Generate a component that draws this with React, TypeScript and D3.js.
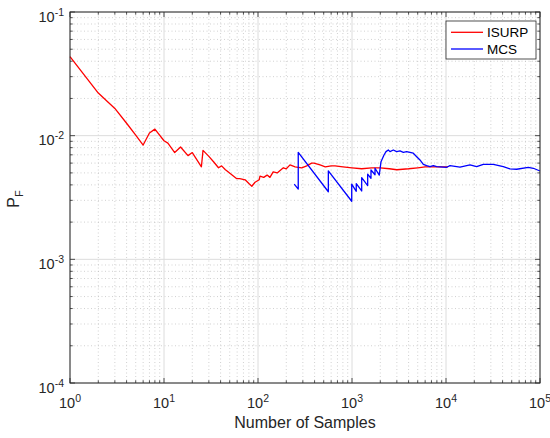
import React from 'react';
import * as d3 from 'd3';

// ISURP estimate of failure probability vs number of samples
const isurpN = [1, 2, 3, 4, 5, 6, 7, 8, 10, 11, 13, 15, 18, 20, 25, 26, 30, 34, 38, 41, 45, 48, 53, 59, 64, 73, 80, 86, 93, 103, 105, 115, 125, 134, 145, 160, 186, 200, 219, 248, 292, 330, 372, 394, 457, 520, 600, 660, 800, 1000, 1268, 1620, 2000, 2500, 3000, 4000, 5000, 6000, 8000, 10500];
const isurpP = [0.0435, 0.0221, 0.0166, 0.0126, 0.0101, 0.0084, 0.0105, 0.0113, 0.0091, 0.0087, 0.0073, 0.0081, 0.0069, 0.0073, 0.0056, 0.0076, 0.0068, 0.0061, 0.0055, 0.0057, 0.0053, 0.0051, 0.0048, 0.0045, 0.0045, 0.0044, 0.0041, 0.0039, 0.0042, 0.0044, 0.0047, 0.0046, 0.0048, 0.0046, 0.0051, 0.0050, 0.0055, 0.0054, 0.0058, 0.0056, 0.0055, 0.0057, 0.0060, 0.0060, 0.0058, 0.0056, 0.0057, 0.0057, 0.0056, 0.0055, 0.0054, 0.0055, 0.0055, 0.0054, 0.0053, 0.0054, 0.0055, 0.0056, 0.0056, 0.0056];

// Crude Monte Carlo estimate
const mcsN = [243, 268, 268, 560, 560, 993, 993, 1110, 1110, 1268, 1268, 1468, 1468, 1592, 1592, 1757, 1757, 1950, 2035, 2120, 2190, 2300, 2434, 2536, 2752, 2986, 3243, 3515, 3817, 4488, 4877, 5286, 5736, 6224, 6755, 7330, 7960, 10170, 11030, 14090, 18000, 21200, 24900, 31900, 40700, 47900, 56400, 75100, 85000, 100000];
const mcsP = [0.00405, 0.0037, 0.00734, 0.00352, 0.0052, 0.00295, 0.00405, 0.00355, 0.0041, 0.00357, 0.00457, 0.00395, 0.00488, 0.00452, 0.00528, 0.00483, 0.00545, 0.0048, 0.00616, 0.0066, 0.00698, 0.00743, 0.00766, 0.00743, 0.00766, 0.00743, 0.00752, 0.00734, 0.00743, 0.00721, 0.00676, 0.00636, 0.00587, 0.00572, 0.00561, 0.00572, 0.00561, 0.00555, 0.00572, 0.00557, 0.0058, 0.00561, 0.00587, 0.00587, 0.00561, 0.00538, 0.00535, 0.00555, 0.00545, 0.00518];

const xExponents = [0, 1, 2, 3, 4, 5];
const yExponents = [-4, -3, -2, -1];
const seriesNames = ['ISURP', 'MCS'];
const seriesColors = ['#ff0000', '#0000ff'];
const xLabel = 'Number of Samples';

const FONT = '"Liberation Sans", Arial, Helvetica, sans-serif';

export default function App() {
  const W = 550, H = 438;
  const left = 70, right = 540, top = 12, bottom = 383;
  const x = d3.scaleLog().domain([1, 1e5]).range([left, right]);
  const y = d3.scaleLog().domain([1e-4, 1e-1]).range([bottom, top]);

  const line = d3.line<[number, number]>().x(d => x(d[0])).y(d => y(d[1]));
  const isurp: [number, number][] = isurpN.map((n, i) => [n, isurpP[i]]);
  const mcs: [number, number][] = mcsN.map((n, i) => [n, mcsP[i]]);

  const minorX: number[] = [];
  for (let e = 0; e < 5; e++) for (let k = 2; k <= 9; k++) minorX.push(k * Math.pow(10, e));
  const minorY: number[] = [];
  for (let e = -4; e < -1; e++) for (let k = 2; k <= 9; k++) minorY.push(k * Math.pow(10, e));
  const majorX = xExponents.map(e => Math.pow(10, e));
  const majorY = yExponents.map(e => Math.pow(10, e));

  const axisColor = '#262626';
  const majT = 5, minT = 2.7;

  return (
    <svg width={W} height={H} style={{ position: 'absolute', left: 0, top: 0, background: '#fff' }} fontFamily={FONT}>
      <rect x={0} y={0} width={W} height={H} fill="#fff" />
      {/* minor grid */}
      {minorX.map((v, i) => (
        <line key={'mgx' + i} x1={x(v)} x2={x(v)} y1={top} y2={bottom} stroke="#bdbdbd" strokeWidth={0.7} strokeDasharray="1,2.5" />
      ))}
      {minorY.map((v, i) => (
        <line key={'mgy' + i} y1={y(v)} y2={y(v)} x1={left} x2={right} stroke="#bdbdbd" strokeWidth={0.7} strokeDasharray="1,2.5" />
      ))}
      {/* major grid */}
      {majorX.map((v, i) => (
        <line key={'gx' + i} x1={x(v)} x2={x(v)} y1={top} y2={bottom} stroke="#dcdcdc" strokeWidth={1} />
      ))}
      {majorY.map((v, i) => (
        <line key={'gy' + i} y1={y(v)} y2={y(v)} x1={left} x2={right} stroke="#dcdcdc" strokeWidth={1} />
      ))}

      {/* data */}
      <path d={line(isurp) || ''} fill="none" stroke={seriesColors[0]} strokeWidth={1.3} strokeLinejoin="round" />
      <path d={line(mcs) || ''} fill="none" stroke={seriesColors[1]} strokeWidth={1.3} strokeLinejoin="round" />

      {/* ticks */}
      {majorX.map((v, i) => (
        <g key={'tx' + i}>
          <line x1={x(v)} x2={x(v)} y1={bottom} y2={bottom - majT} stroke={axisColor} strokeWidth={0.8} />
          <line x1={x(v)} x2={x(v)} y1={top} y2={top + majT} stroke={axisColor} strokeWidth={0.8} />
        </g>
      ))}
      {minorX.map((v, i) => (
        <g key={'mtx' + i}>
          <line x1={x(v)} x2={x(v)} y1={bottom} y2={bottom - minT} stroke={axisColor} strokeWidth={0.8} />
          <line x1={x(v)} x2={x(v)} y1={top} y2={top + minT} stroke={axisColor} strokeWidth={0.8} />
        </g>
      ))}
      {majorY.map((v, i) => (
        <g key={'ty' + i}>
          <line y1={y(v)} y2={y(v)} x1={left} x2={left + majT} stroke={axisColor} strokeWidth={0.8} />
          <line y1={y(v)} y2={y(v)} x1={right} x2={right - majT} stroke={axisColor} strokeWidth={0.8} />
        </g>
      ))}
      {minorY.map((v, i) => (
        <g key={'mty' + i}>
          <line y1={y(v)} y2={y(v)} x1={left} x2={left + minT} stroke={axisColor} strokeWidth={0.8} />
          <line y1={y(v)} y2={y(v)} x1={right} x2={right - minT} stroke={axisColor} strokeWidth={0.8} />
        </g>
      ))}

      {/* axes box */}
      <rect x={left} y={top} width={right - left} height={bottom - top} fill="none" stroke={axisColor} strokeWidth={1} />

      {/* tick labels */}
      {xExponents.map((e, i) => (
        <text key={'lx' + i} x={x(Math.pow(10, e))} y={407.5} textAnchor="middle" fontSize={14.5} fill={axisColor}>
          <tspan>10</tspan>
          <tspan dy={-6} fontSize={10.5}>{String(e)}</tspan>
        </text>
      ))}
      {yExponents.map((e, i) => (
        <text key={'ly' + i} x={64} y={y(Math.pow(10, e)) + 9.5} textAnchor="end" fontSize={14.5} fill={axisColor}>
          <tspan>10</tspan>
          <tspan dy={-6} fontSize={10.5}>{String(e)}</tspan>
        </text>
      ))}

      {/* axis labels */}
      <text x={(left + right) / 2} y={428} textAnchor="middle" fontSize={16} fill={axisColor}>{xLabel}</text>
      <text transform="translate(18.5,199) rotate(-90)" textAnchor="middle" fontSize={16} fill={axisColor}>
        <tspan>P</tspan>
        <tspan dy={4} fontSize={11}>F</tspan>
      </text>

      {/* legend */}
      <rect x={446} y={21} width={90} height={38} fill="#fff" stroke={axisColor} strokeWidth={0.8} />
      {seriesNames.map((name, i) => (
        <g key={'lg' + i}>
          <line x1={451} x2={483} y1={32.3 + i * 16.7} y2={32.3 + i * 16.7} stroke={seriesColors[i]} strokeWidth={1.3} />
          <text x={487} y={32.3 + i * 16.7 + 5} fontSize={13.5} fill="#000">{name}</text>
        </g>
      ))}
    </svg>
  );
}
